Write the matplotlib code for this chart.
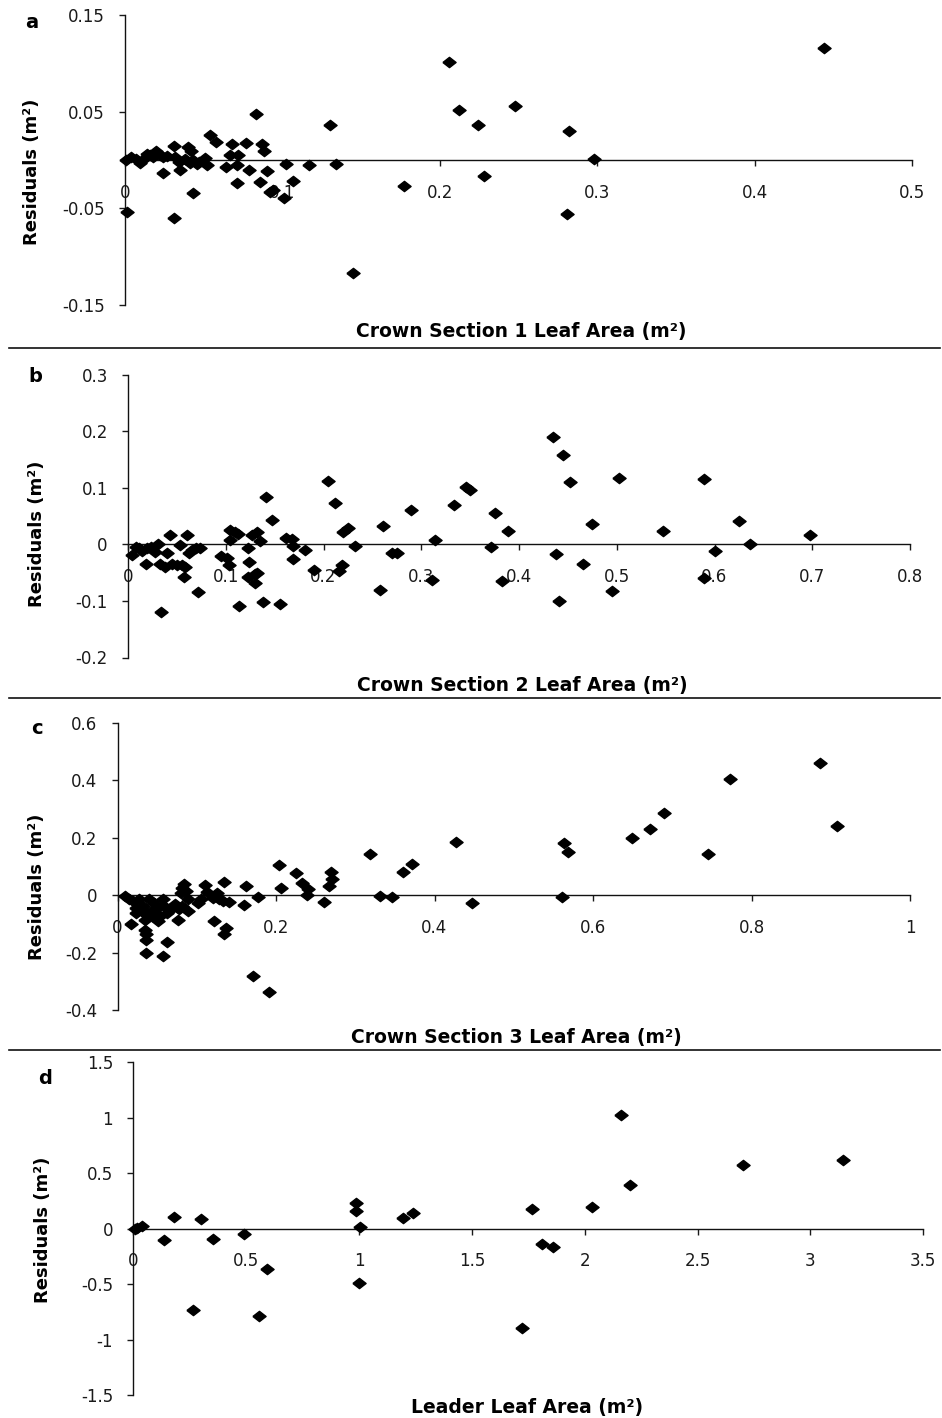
import matplotlib
matplotlib.use("Agg")
import matplotlib.pyplot as plt
from matplotlib.lines import Line2D

plt.rcParams['font.family'] = ['DejaVu Sans']

# ---- residuals, crown section 1 ----
a_x = [0.0006, 0.001, 0.004, 0.0095, 0.0127, 0.016, 0.018, 0.020, 0.022, 0.024,
       0.024, 0.031, 0.032, 0.034, 0.035, 0.031, 0.040, 0.042, 0.041, 0.043,
       0.047, 0.051, 0.052, 0.043, 0.054, 0.058, 0.064, 0.068, 0.067, 0.072,
       0.071, 0.071, 0.077, 0.079, 0.083, 0.087, 0.088, 0.086, 0.090, 0.092,
       0.094, 0.101, 0.102, 0.107, 0.117, 0.130, 0.134, 0.145, 0.177, 0.206,
       0.212, 0.224, 0.228, 0.248, 0.282, 0.281, 0.298, 0.444,
       0.007, 0.014, 0.027, 0.038, 0.046]
a_y = [0.000, -0.054, 0.003, -0.003, 0.002, 0.005, 0.003, 0.009, 0.005, 0.003,
       -0.013, 0.014, 0.003, -0.002, -0.010, -0.060, 0.013, 0.009, -0.003, 0.000,
       -0.002, 0.002, -0.005, -0.034, 0.026, 0.019, -0.007, 0.017, 0.005, 0.005,
       -0.005, -0.024, 0.018, -0.010, 0.048, 0.017, 0.009, -0.023, -0.011, -0.033,
       -0.031, -0.039, -0.004, -0.022, -0.005, 0.036, -0.004, -0.117, -0.027, 0.101,
       0.052, 0.036, -0.017, 0.056, 0.030, -0.056, 0.001, 0.116,
       0.001, 0.006, 0.004, 0.001, -0.004]

# ---- residuals, crown section 2 ----
b_x = [0.004, 0.008, 0.011, 0.014, 0.019, 0.024, 0.028, 0.031, 0.018, 0.033,
       0.038, 0.040, 0.043, 0.045, 0.050, 0.055, 0.053, 0.060, 0.058, 0.057,
       0.062, 0.065, 0.070, 0.074, 0.034, 0.072, 0.095, 0.104, 0.104, 0.109,
       0.113, 0.101, 0.103, 0.114, 0.123, 0.124, 0.127, 0.123, 0.130, 0.132,
       0.130, 0.132, 0.135, 0.138, 0.141, 0.147, 0.156, 0.162, 0.168, 0.169,
       0.169, 0.181, 0.190, 0.205, 0.212, 0.220, 0.225, 0.219, 0.216, 0.232,
       0.261, 0.258, 0.270, 0.275, 0.290, 0.311, 0.314, 0.333, 0.346, 0.350,
       0.375, 0.389, 0.371, 0.383, 0.435, 0.445, 0.452, 0.438, 0.441, 0.465,
       0.475, 0.502, 0.495, 0.547, 0.589, 0.589, 0.600, 0.625, 0.636, 0.698]
b_y = [-0.019, -0.004, -0.007, -0.012, -0.007, -0.004, -0.013, 0.001, -0.034, -0.034,
       -0.040, -0.016, 0.017, -0.034, -0.036, -0.037, -0.001, 0.017, -0.040, -0.057,
       -0.016, -0.010, -0.007, -0.007, -0.119, -0.084, -0.020, 0.007, 0.025, 0.022,
       0.019, -0.024, -0.036, -0.109, -0.007, -0.031, 0.017, -0.057, -0.053, 0.022,
       -0.068, -0.050, 0.006, -0.102, 0.084, 0.043, -0.106, 0.011, 0.010, -0.003,
       -0.026, -0.010, -0.046, 0.112, 0.073, 0.022, 0.028, -0.037, -0.047, -0.003,
       0.032, -0.080, -0.015, -0.015, 0.060, -0.063, 0.007, 0.070, 0.102, 0.096,
       0.056, 0.024, -0.004, -0.065, 0.190, 0.158, 0.110, -0.017, -0.100, -0.035,
       0.036, 0.118, -0.082, 0.024, 0.116, -0.060, -0.012, 0.041, 0.001, 0.016]

# ---- residuals, crown section 3 ----
c_x = [0.009, 0.015, 0.019, 0.023, 0.023, 0.017, 0.027, 0.032, 0.034, 0.035,
       0.035, 0.036, 0.036, 0.036, 0.040, 0.042, 0.044, 0.046, 0.049, 0.051,
       0.053, 0.057, 0.059, 0.057, 0.062, 0.063, 0.067, 0.072, 0.076, 0.078,
       0.080, 0.082, 0.084, 0.086, 0.089, 0.082, 0.089, 0.101, 0.105, 0.110,
       0.113, 0.120, 0.126, 0.128, 0.134, 0.133, 0.141, 0.122, 0.137, 0.134,
       0.162, 0.160, 0.177, 0.171, 0.191, 0.204, 0.206, 0.225, 0.233, 0.240,
       0.239, 0.260, 0.269, 0.271, 0.267, 0.318, 0.331, 0.347, 0.360, 0.371,
       0.427, 0.447, 0.563, 0.569, 0.561, 0.649, 0.672, 0.690, 0.745, 0.773,
       0.887, 0.908]
c_y = [-0.003, -0.015, -0.021, -0.044, -0.061, -0.099, -0.015, -0.038, -0.061, -0.085,
       -0.120, -0.137, -0.157, -0.203, -0.015, -0.056, -0.073, -0.026, -0.049, -0.091,
       -0.073, -0.015, -0.038, -0.212, -0.162, -0.061, -0.049, -0.032, -0.085, -0.049,
       0.008, 0.026, 0.037, 0.014, -0.015, -0.038, -0.056, -0.026, -0.015, 0.035,
       0.010, -0.009, 0.008, -0.015, 0.045, -0.021, -0.024, -0.091, -0.114, -0.137,
       0.031, -0.036, -0.006, -0.282, -0.337, 0.104, 0.026, 0.076, 0.041, 0.020,
       0.002, -0.024, 0.080, 0.055, 0.031, 0.144, -0.003, -0.007, 0.081, 0.107,
       0.185, -0.029, 0.183, 0.150, -0.006, 0.200, 0.229, 0.287, 0.142, 0.403,
       0.461, 0.241]

# ---- residuals, leader ----
d_x = [0.008, 0.018, 0.037, 0.137, 0.180, 0.263, 0.300, 0.352, 0.492, 0.557,
       0.591, 0.987, 0.987, 1.004, 1.001, 1.196, 1.241, 1.765, 1.809, 1.858,
       1.721, 2.031, 2.161, 2.201, 2.700, 3.143]
d_y = [-0.006, 0.009, 0.024, -0.102, 0.105, -0.736, 0.090, -0.096, -0.051, -0.787,
       -0.366, 0.234, 0.159, 0.018, -0.486, 0.099, 0.138, 0.180, -0.141, -0.162,
       -0.898, 0.198, 1.024, 0.390, 0.570, 0.615]

a_xticks = [0, 0.1, 0.2, 0.3, 0.4, 0.5]
a_xlabels = ['0', '0.1', '0.2', '0.3', '0.4', '0.5']
a_yticks = [-0.15, -0.05, 0.05, 0.15]
a_ylabels = ['-0.15', '-0.05', '0.05', '0.15']

b_xticks = [0, 0.1, 0.2, 0.3, 0.4, 0.5, 0.6, 0.7, 0.8]
b_xlabels = ['0', '0.1', '0.2', '0.3', '0.4', '0.5', '0.6', '0.7', '0.8']
b_yticks = [-0.2, -0.1, 0, 0.1, 0.2, 0.3]
b_ylabels = ['-0.2', '-0.1', '0', '0.1', '0.2', '0.3']

c_xticks = [0, 0.2, 0.4, 0.6, 0.8, 1.0]
c_xlabels = ['0', '0.2', '0.4', '0.6', '0.8', '1']
c_yticks = [-0.4, -0.2, 0, 0.2, 0.4, 0.6]
c_ylabels = ['-0.4', '-0.2', '0', '0.2', '0.4', '0.6']

d_xticks = [0, 0.5, 1, 1.5, 2, 2.5, 3, 3.5]
d_xlabels = ['0', '0.5', '1', '1.5', '2', '2.5', '3', '3.5']
d_yticks = [-1.5, -1, -0.5, 0, 0.5, 1, 1.5]
d_ylabels = ['-1.5', '-1', '-0.5', '0', '0.5', '1', '1.5']

W, H = 942, 1418
fig = plt.figure(figsize=(W / 100, H / 100), dpi=100)

diamond = [(-1, 0), (0, 0.78), (1, 0), (0, -0.78), (-1, 0)]


def px_rect(left, right, top, bottom):
    return [left / W, 1 - bottom / H, (right - left) / W, (bottom - top) / H]


panels = [
    dict(rect=px_rect(125, 912, 15, 305), x=a_x, y=a_y, xlim=(0, 0.5), ylim=(-0.15, 0.15),
         xt=a_xticks, xl=a_xlabels, yt=a_yticks, yl=a_ylabels,
         letter='a', letter_xy=(32, 23), ylab_xy=(32, 172),
         xlabel='Crown Section 1 Leaf Area (m²)', xlab_xy=(521, 332)),
    dict(rect=px_rect(128, 910, 374.5, 657.5), x=b_x, y=b_y, xlim=(0, 0.8), ylim=(-0.2, 0.3),
         xt=b_xticks, xl=b_xlabels, yt=b_yticks, yl=b_ylabels,
         letter='b', letter_xy=(35, 377), ylab_xy=(37, 534),
         xlabel='Crown Section 2 Leaf Area (m²)', xlab_xy=(522, 685)),
    dict(rect=px_rect(117.5, 910, 722.7, 1010), x=c_x, y=c_y, xlim=(0, 1.0), ylim=(-0.4, 0.6),
         xt=c_xticks, xl=c_xlabels, yt=c_yticks, yl=c_ylabels,
         letter='c', letter_xy=(37, 728), ylab_xy=(37, 887),
         xlabel='Crown Section 3 Leaf Area (m²)', xlab_xy=(516, 1037)),
    dict(rect=px_rect(133.3, 923.3, 1062.3, 1395), x=d_x, y=d_y, xlim=(0, 3.5), ylim=(-1.5, 1.5),
         xt=d_xticks, xl=d_xlabels, yt=d_yticks, yl=d_ylabels,
         letter='d', letter_xy=(45, 1078), ylab_xy=(43, 1230),
         xlabel='Leader Leaf Area (m²)', xlab_xy=(527, 1407)),
]

for p in panels:
    ax = fig.add_axes(p['rect'])
    ax.plot(p['x'], p['y'], linestyle='none', marker=diamond, markersize=9.5,
            color='black', clip_on=False, zorder=3)
    ax.set_xlim(*p['xlim'])
    ax.set_ylim(*p['ylim'])
    ax.set_xticks(p['xt'])
    ax.set_xticklabels(p['xl'])
    ax.set_yticks(p['yt'])
    ax.set_yticklabels(p['yl'])

    ax.spines['top'].set_visible(False)
    ax.spines['right'].set_visible(False)
    ax.spines['bottom'].set_position(('data', 0))
    for s in ('left', 'bottom'):
        ax.spines[s].set_linewidth(1.0)
        ax.spines[s].set_color('#111111')
    ax.tick_params(axis='x', direction='out', length=4, width=1.0, pad=13,
                   labelsize=12, colors='#1a1a1a')
    ax.tick_params(axis='y', direction='out', length=4.5, width=1.0, pad=10,
                   labelsize=12, colors='#1a1a1a')
    ax.patch.set_visible(False)

    lx, ly = p['letter_xy']
    fig.text(lx / W, 1 - ly / H, p['letter'], fontsize=14, fontweight='bold',
             ha='center', va='center')
    yx, yy = p['ylab_xy']
    fig.text(yx / W, 1 - yy / H, 'Residuals (m²)', fontsize=13, fontweight='bold',
             rotation=90, ha='center', va='center')
    xx, xy = p['xlab_xy']
    fig.text(xx / W, 1 - xy / H, p['xlabel'], fontsize=13.5, fontweight='bold',
             ha='center', va='center')

# rules separating the panels
for yline in (348, 698, 1050):
    fig.add_artist(Line2D([0.01, 0.998], [1 - yline / H, 1 - yline / H],
                          transform=fig.transFigure, color='#111111', linewidth=1.2))

fig.savefig('out.png', dpi=100)
